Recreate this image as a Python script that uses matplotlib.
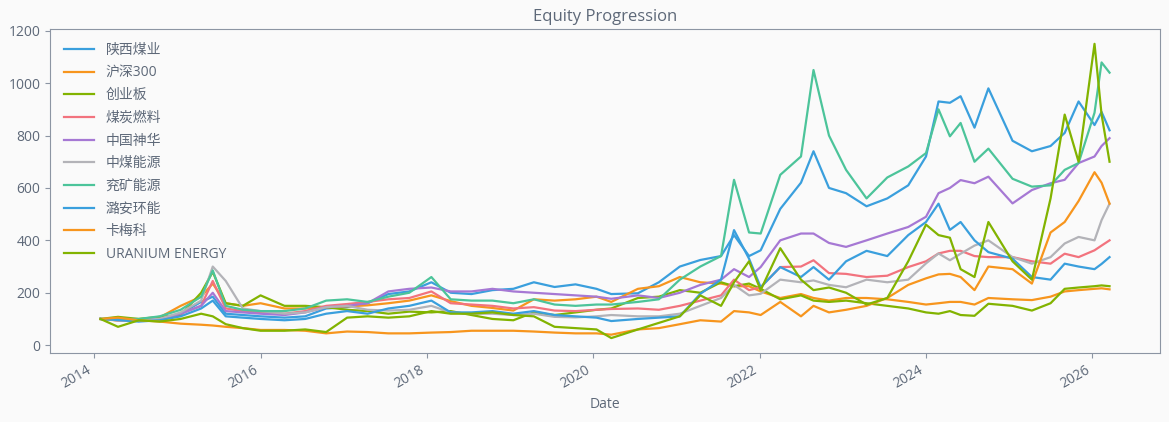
import matplotlib
matplotlib.use("Agg")
import matplotlib.pyplot as plt
import matplotlib.dates as mdates
import pandas as pd

plt.rcParams['font.family'] = ['Open Sans', 'Noto Sans CJK SC', 'DejaVu Sans']

# sample dates
dates = ["2014-01-28", "2014-04-15", "2014-07-15", "2014-10-15",
         "2015-01-15", "2015-04-15", "2015-06-05", "2015-08-01", "2015-10-15",
         "2016-01-01", "2016-04-15", "2016-07-15", "2016-10-15",
         "2017-01-15", "2017-04-15", "2017-07-15", "2017-10-15",
         "2018-01-20", "2018-04-15", "2018-07-15", "2018-10-15",
         "2019-01-15", "2019-04-15", "2019-07-15", "2019-10-15",
         "2020-01-15", "2020-03-20", "2020-07-15", "2020-10-15",
         "2021-01-15", "2021-04-15", "2021-07-15", "2021-09-10", "2021-11-15",
         "2022-01-05", "2022-04-01", "2022-07-01", "2022-08-25", "2022-11-01",
         "2023-01-15", "2023-04-15", "2023-07-15", "2023-10-15",
         "2024-01-01", "2024-02-25", "2024-04-15", "2024-06-01", "2024-08-01", "2024-10-01",
         "2025-01-15", "2025-04-10", "2025-07-01", "2025-09-01", "2025-11-01",
         "2026-01-10", "2026-02-10", "2026-03-17"]

shaanxi = [100, 95, 92, 100,
           120, 165, 185, 120, 115,
           110, 105, 110, 140,
           145, 160, 195, 205,
           240, 200, 195, 210,
           215, 240, 222, 232,
           215, 195, 198, 240,
           300, 325, 340, 420, 340,
           362, 520, 620, 740, 600,
           580, 530, 560, 610,
           720, 930, 925, 950, 830, 980,
           780, 740, 760, 810, 930,
           840, 890, 820]
hs300 = [100, 94, 96, 106,
         150, 185, 235, 160, 150,
         160, 140, 140, 145,
         148, 152, 160, 170,
         190, 168, 150, 142,
         132, 175, 170, 175,
         185, 165, 215, 225,
         260, 240, 235, 225, 225,
         205, 180, 195, 180, 170,
         180, 180, 175, 165,
         155, 160, 165, 165, 155, 180,
         175, 172, 185, 205, 210,
         215, 217, 213]
chinext = [100, 108, 100, 108,
           115, 200, 280, 160, 150,
           190, 150, 150, 145,
           135, 130, 120, 128,
           125, 130, 115, 100,
           95, 125, 115, 125,
           135, 140, 180, 185,
           210, 200, 240, 225, 235,
           215, 175, 190, 170, 165,
           170, 160, 150, 140,
           125, 120, 130, 115, 112, 158,
           150, 132, 160, 215, 220,
           225, 228, 225]
coal_fuel = [100, 97, 97, 100,
             120, 150, 245, 140, 130,
             125, 120, 130, 150,
             157, 165, 175, 180,
             205, 160, 155, 150,
             140, 145, 132, 130,
             135, 138, 140, 135,
             150, 170, 190, 250, 210,
             221, 298, 300, 324, 275,
             272, 260, 265, 298,
             320, 350, 360, 360, 340, 336,
             336, 320, 311, 349, 336,
             362, 380, 400]
shenhua = [100, 95, 95, 100,
           120, 150, 200, 130, 125,
           120, 115, 125, 145,
           150, 160, 205, 215,
           220, 205, 205, 215,
           205, 200, 195, 190,
           185, 177, 190, 180,
           200, 230, 250, 290, 260,
           298, 400, 426, 426, 390,
           375, 400, 426, 451,
           490, 580, 600, 630, 618, 643,
           541, 592, 618, 631, 695,
           720, 760, 790]
chinacoal = [100, 95, 95, 100,
             125, 170, 300, 245, 140,
             130, 120, 125, 145,
             150, 135, 132, 135,
             150, 125, 120, 120,
             115, 120, 108, 106,
             110, 115, 110, 110,
             120, 150, 180, 230, 190,
             196, 250, 240, 247, 230,
             221, 250, 240, 250,
             312, 350, 324, 349, 380, 400,
             336, 311, 336, 388, 413,
             400, 477, 540]
yankuang = [100, 100, 100, 110,
            135, 185, 285, 150, 135,
            130, 130, 140, 170,
            175, 165, 185, 200,
            260, 175, 170, 170,
            160, 175, 155, 150,
            155, 155, 165, 175,
            250, 300, 340, 631, 430,
            426, 650, 720, 1050, 800,
            669, 560, 640, 682,
            733, 900, 797, 848, 700, 750,
            635, 605, 610, 669, 695,
            887, 1079, 1040]
luan = [100, 96, 90, 95,
        110, 140, 170, 110, 105,
        100, 95, 100, 120,
        130, 120, 140, 150,
        170, 125, 125, 130,
        120, 130, 115, 110,
        105, 92, 100, 105,
        110, 196, 250, 439, 330,
        221, 298, 260, 298, 250,
        320, 360, 340, 420,
        470, 540, 440, 470, 400, 355,
        330, 260, 250, 311, 300,
        290, 310, 336]
cameco = [100, 105, 95, 90,
          82, 78, 75, 70, 65,
          58, 58, 55, 45,
          52, 50, 45, 45,
          48, 50, 55, 55,
          55, 52, 48, 45,
          45, 40, 60, 65,
          80, 95, 90, 130, 125,
          115, 165, 110, 150, 125,
          135, 150, 180, 230,
          255, 270, 272, 260, 210, 300,
          290, 235, 430, 470, 550,
          660, 620, 540]
uec = [100, 70, 95, 90,
       100, 120, 110, 80, 65,
       55, 55, 60, 50,
       105, 110, 105, 110,
       130, 120, 120, 125,
       115, 110, 70, 65,
       60, 27, 60, 85,
       110, 190, 150, 240, 320,
       210, 370, 250, 210, 220,
       200, 155, 180, 320,
       460, 420, 410, 290, 260, 470,
       320, 250, 560, 880, 700,
       1150, 880, 700]

names = ["陕西煤业", "沪深300", "创业板", "煤炭燃料", "中国神华",
         "中煤能源", "兖矿能源", "潞安环能", "卡梅科", "URANIUM ENERGY"]
series = [shaanxi, hs300, chinext, coal_fuel, shenhua,
          chinacoal, yankuang, luan, cameco, uec]
palette = ['#3a9fdd', '#f7951d', '#82b300', '#f2737e', '#a678d4',
           '#b3b3b8', '#4cc49a']

text_c = '#5d6878'
edge_c = '#8c95a3'
bg = '#fafafa'

x = pd.to_datetime(dates)

fig = plt.figure(figsize=(11.69, 4.22), dpi=100, facecolor=bg)
ax = fig.add_axes([0.0428, 0.164, 0.9495, 0.767], facecolor=bg)

for i, (name, vals) in enumerate(zip(names, series)):
    ax.plot(x, vals, color=palette[i % len(palette)], lw=1.6, label=name)

ax.set_title("Equity Progression", color=text_c, fontsize=12, pad=6)
ax.set_xlabel("Date", color=text_c, fontsize=10)
ax.xaxis.set_major_locator(mdates.YearLocator(2))
ax.xaxis.set_major_formatter(mdates.DateFormatter('%Y'))
for lab in ax.get_xticklabels():
    lab.set_rotation(30)
    lab.set_ha('right')
ax.tick_params(colors=edge_c, labelcolor=text_c, labelsize=10)
for sp in ax.spines.values():
    sp.set_color(edge_c)

leg = ax.legend(loc='upper left', frameon=False, fontsize=10,
                labelspacing=0.55, handlelength=2.2, borderaxespad=0.6)
for t in leg.get_texts():
    t.set_color(text_c)

fig.savefig("out.png", dpi=100, facecolor=bg)
